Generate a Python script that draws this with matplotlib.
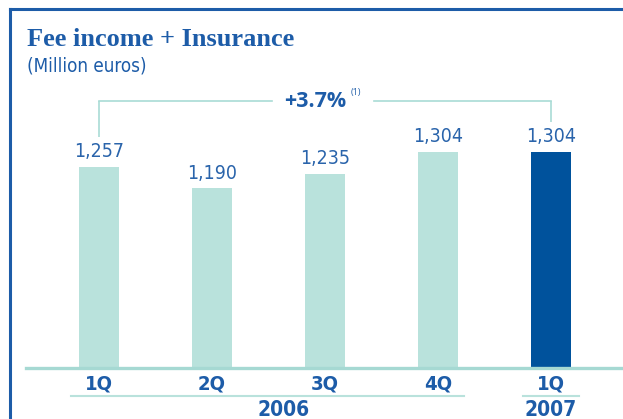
import numpy as np
import matplotlib
matplotlib.use('Agg')
import matplotlib.pyplot as plt
from matplotlib.lines import Line2D

# 数据
quarters = ['1Q', '2Q', '3Q', '4Q', '1Q']
values = [1257, 1190, 1235, 1304, 1304]
value_labels = ['1,257', '1,190', '1,235', '1,304', '1,304']
years = ['2006', '2007']
growth = '+3.7%'

W, H = 623, 419
light = '#b9e2dc'
dark = '#00529c'
blue = '#1d5ca8'
line_c = '#a9dcd5'

fig = plt.figure(figsize=(W / 100, H / 100), dpi=100)


def px(x, y):
    # 像素坐标（左上角为原点）转换为 figure 坐标
    return x / W, 1 - y / H


# 坐标轴：基线在 y=367 像素，柱子中心间距约 113 像素
base_y = 367
ax = fig.add_axes([0, (H - base_y) / H, 1, base_y / H])
x = np.arange(len(values))
step = 113
x0 = 99
ax.set_xlim(-x0 / step, (W - x0) / step)
k = 0.318  # 像素/单位
v0 = 628
ax.set_ylim(v0, v0 + base_y / k)
ax.axis('off')

colors = [light] * 4 + [dark]
ax.bar(x, values, width=40 / step, color=colors, bottom=0)

for xi, v, lab in zip(x, values, value_labels):
    ax.annotate(lab, (xi, v), xytext=(0, 11), textcoords='offset points',
                ha='center', va='center', fontsize=14, color='#2a64ab',
                family='DejaVu Sans', stretch='condensed')

# 增长括号线
top = v0 + (base_y - 101) / k
off = 30 / k
ax.plot([0, 0], [values[0] + off, top], color=line_c, lw=1.2, solid_capstyle='butt')
ax.plot([4, 4], [values[4] + off, top], color=line_c, lw=1.2, solid_capstyle='butt')
lx = (272 - x0) / step
rx = (374 - x0) / step
ax.plot([0, lx], [top, top], color=line_c, lw=1.2)
ax.plot([rx, 4], [top, top], color=line_c, lw=1.2)
ax.text((315 - x0) / step, top, growth, ha='center', va='center', fontsize=15.5,
        fontweight='bold', color=blue, family='Open Sans')
ax.text((356 - x0) / step, top + 8 / k, '(1)', ha='center', va='center', fontsize=6.5,
        color=blue, family='Open Sans')

# 边框
fig.add_artist(Line2D([px(10, 0)[0], px(W + 5, 0)[0]], [px(0, 9)[1]] * 2,
                      color='#1d5ca8', lw=2.2, transform=fig.transFigure))
fig.add_artist(Line2D([px(10, 0)[0]] * 2, [px(0, 9)[1], px(0, H + 5)[1]],
                      color='#1d5ca8', lw=2.2, transform=fig.transFigure))

# 基线
fig.add_artist(Line2D([px(26, 0)[0], 1], [px(0, base_y + 1)[1]] * 2,
                      color='#a6d9d3', lw=2.4, transform=fig.transFigure))

# 标题
tx, ty = px(27, 40)
fig.text(tx, ty, 'Fee income + Insurance', ha='left', va='center', fontsize=19,
         fontweight='bold', color=blue, family='Liberation Serif')
tx, ty = px(27, 66)
fig.text(tx, ty, '(Million euros)', ha='left', va='center', fontsize=13.5,
         color=blue, family='DejaVu Sans', stretch='condensed')

# 季度标签
for xi, q in zip(x, quarters):
    tx, ty = px(x0 + xi * step, 384)
    fig.text(tx, ty, q, ha='center', va='center', fontsize=14.5, fontweight='bold',
             color=blue, family='DejaVu Sans', stretch='condensed')

# 年份下划线和标签
fig.add_artist(Line2D([px(71, 0)[0], px(464, 0)[0]], [px(0, 396)[1]] * 2,
                      color=light, lw=1.5, transform=fig.transFigure))
fig.add_artist(Line2D([px(523, 0)[0], px(579, 0)[0]], [px(0, 396)[1]] * 2,
                      color=light, lw=1.5, transform=fig.transFigure))
for cx, yr in zip([284, 551], years):
    tx, ty = px(cx, 410)
    fig.text(tx, ty, yr, ha='center', va='center', fontsize=15, fontweight='bold',
             color=blue, family='DejaVu Sans', stretch='condensed')

fig.savefig('out.png', dpi=100)
